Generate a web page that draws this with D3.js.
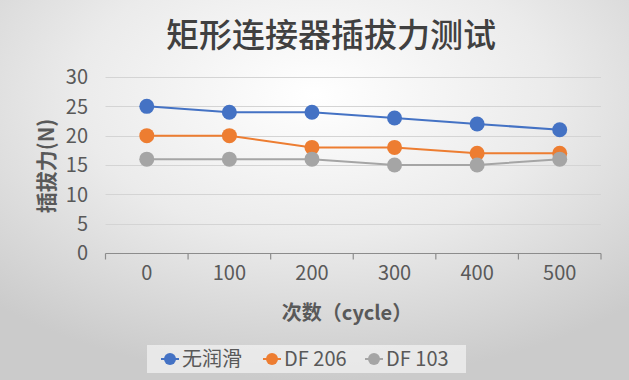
<!DOCTYPE html>
<html><head><meta charset="utf-8">
<script src="https://cdn.jsdelivr.net/npm/d3@7"></script>
<style>html,body{margin:0;padding:0;overflow:hidden;}svg{display:block;}</style>
</head><body>
<script>
const categories = ["0","100","200","300","400","500"];
const seriesNames = ["无润滑","DF 206","DF 103"];
const s1 = [25,24,24,23,22,21];
const s2 = [20,20,18,18,17,17];
const s3 = [16,16,16,15,15,16];
const yTicks = [0,5,10,15,20,25,30];
const colors = ["#4472C4","#ED7D31","#A5A5A5"];
const series = [s1,s2,s3];

const W=629,H=380;
const svg=d3.select("body").append("svg").attr("width",W).attr("height",H);
const defs=svg.append("defs");
const rg=defs.append("radialGradient").attr("id","bg").attr("cx","50%").attr("cy","25%").attr("r","75%");
rg.append("stop").attr("offset","0%").attr("stop-color","#ffffff");
rg.append("stop").attr("offset","50%").attr("stop-color","#ebebeb");
rg.append("stop").attr("offset","100%").attr("stop-color","#cbcbcb");
svg.append("rect").attr("width",W).attr("height",H).attr("fill","url(#bg)");

const font="'Noto Sans CJK SC','Noto Sans',sans-serif";
const x=d3.scaleBand().domain(categories).range([105.5,601]);
const y=d3.scaleLinear().domain([0,30]).range([253,77]);

// title
svg.append("text").attr("x",331).attr("y",47).attr("text-anchor","middle")
  .attr("font-family",font).attr("font-size",33).attr("font-weight",500).attr("fill","#404040")
  .text("矩形连接器插拔力测试");

// gridlines
svg.append("g").selectAll("line").data(yTicks.filter(d=>d>0)).join("line")
  .attr("x1",105.5).attr("x2",601).attr("y1",d=>Math.round(y(d))+0.5).attr("y2",d=>Math.round(y(d))+0.5)
  .attr("stroke","#d4d4d4").attr("stroke-width",1);

// y labels
svg.append("g").selectAll("text").data(yTicks).join("text")
  .attr("x",88).attr("y",d=>y(d)).attr("dy","0.36em").attr("text-anchor","end")
  .attr("font-family",font).attr("font-size",20).attr("fill","#595959").text(d=>d);

// x axis
const xa=svg.append("g").attr("transform","translate(0,253.5)")
  .call(d3.axisBottom(x).tickSize(0).tickFormat(d=>d));
xa.select(".domain").remove();
xa.selectAll("text").attr("font-family",font).attr("font-size",20).attr("fill","#595959").attr("y",0).attr("dy","1.32em");
svg.append("line").attr("x1",105.5).attr("x2",601).attr("y1",253.5).attr("y2",253.5).attr("stroke","#8c8c8c").attr("stroke-width",1.2);
const bounds=categories.map(c=>x(c)).concat([x.range()[1]]);
svg.append("g").selectAll("line").data(bounds).join("line")
  .attr("x1",d=>d).attr("x2",d=>d).attr("y1",253.5).attr("y2",259.5).attr("stroke","#8c8c8c").attr("stroke-width",1.2);

// axis titles
svg.append("text").attr("transform","translate(54,166) rotate(-90)").attr("text-anchor","middle")
  .attr("font-family",font).attr("font-size",21).attr("font-weight","bold").attr("fill","#595959").text("插拔力(N)");
svg.append("text").attr("x",347).attr("y",320).attr("text-anchor","middle")
  .attr("font-family",font).attr("font-size",20).attr("font-weight","bold").attr("fill","#595959").text("次数（cycle）");

// series
const line=d3.line().x((d,i)=>x(categories[i])+x.bandwidth()/2).y(d=>y(d));
series.forEach((s,k)=>{
  svg.append("path").datum(s).attr("d",line).attr("fill","none").attr("stroke",colors[k]).attr("stroke-width",2);
});
series.forEach((s,k)=>{
  svg.append("g").selectAll("circle").data(s).join("circle")
    .attr("cx",(d,i)=>x(categories[i])+x.bandwidth()/2).attr("cy",d=>y(d)).attr("r",7.5).attr("fill",colors[k]);
});

// legend
svg.append("rect").attr("x",147).attr("y",345).attr("width",319).attr("height",28).attr("fill","#f4f4f4").attr("opacity",0.7);
const lx=[170,272,374];
seriesNames.forEach((n,k)=>{
  svg.append("line").attr("x1",lx[k]-9).attr("x2",lx[k]+9).attr("y1",359).attr("y2",359).attr("stroke",colors[k]).attr("stroke-width",2);
  svg.append("circle").attr("cx",lx[k]).attr("cy",359).attr("r",6).attr("fill",colors[k]);
  svg.append("text").attr("x",lx[k]+12).attr("y",359).attr("dy","0.36em").attr("font-family",font).attr("font-size",20).attr("fill","#595959").text(n);
});
</script>
</body></html>
